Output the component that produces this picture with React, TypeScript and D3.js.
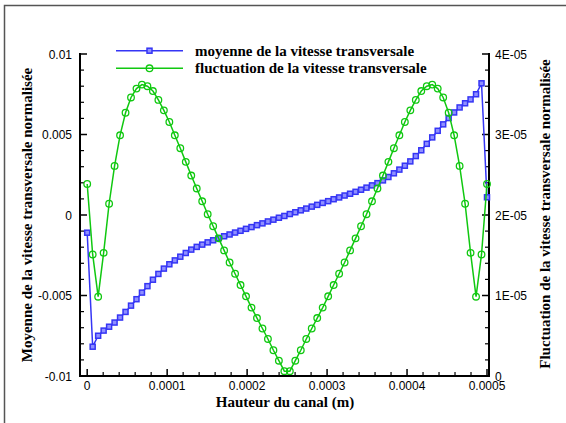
import React from 'react';
import * as d3 from 'd3';

// Hauteur du canal in micrometres (x 1e-6 m)
const hauteurUm = [
  0, 6.85, 13.7, 20.55, 27.4, 34.25, 41.1, 47.95, 54.79, 61.64,
  68.49, 75.34, 82.19, 89.04, 95.89, 102.74, 109.59, 116.44, 123.29, 130.14,
  136.99, 143.84, 150.68, 157.53, 164.38, 171.23, 178.08, 184.93, 191.78, 198.63,
  205.48, 212.33, 219.18, 226.03, 232.88, 239.73, 246.58, 253.42, 260.27, 267.12,
  273.97, 280.82, 287.67, 294.52, 301.37, 308.22, 315.07, 321.92, 328.77, 335.62,
  342.47, 349.32, 356.16, 363.01, 369.86, 376.71, 383.56, 390.41, 397.26, 404.11,
  410.96, 417.81, 424.66, 431.51, 438.36, 445.21, 452.05, 458.9, 465.75, 472.6,
  479.45, 486.3, 493.15, 500,
];

const moyenne = [
  -0.0011, -0.00818, -0.0075, -0.00718, -0.00694, -0.00668, -0.00637, -0.00602, -0.00563, -0.00523,
  -0.00482, -0.00442, -0.00402, -0.00366, -0.00333, -0.00306, -0.00282, -0.00259, -0.00236, -0.00215,
  -0.00198, -0.00184, -0.0017, -0.00157, -0.00144, -0.00132, -0.00121, -0.00109, -0.00098, -0.00086,
  -0.00075, -0.00063, -0.00052, -0.0004, -0.00029, -0.00017, -0.00006, 0.00006, 0.00017, 0.00029,
  0.0004, 0.00052, 0.00063, 0.00075, 0.00086, 0.00098, 0.00109, 0.00121, 0.00132, 0.00144,
  0.00157, 0.0017, 0.00184, 0.00198, 0.00215, 0.00236, 0.00259, 0.00282, 0.00306, 0.00333,
  0.00366, 0.00402, 0.00442, 0.00482, 0.00523, 0.00563, 0.00602, 0.00637, 0.00668, 0.00694,
  0.00718, 0.0075, 0.00818, 0.0011,
];

const fluctuation = [
  2.385e-5, 1.51e-5, 0.985e-5, 1.53e-5, 2.14e-5, 2.61e-5, 2.99e-5, 3.27e-5, 3.46e-5, 3.57e-5,
  3.62e-5, 3.6e-5, 3.54e-5, 3.43e-5, 3.3e-5, 3.155e-5, 2.99e-5, 2.83e-5, 2.66e-5, 2.49e-5,
  2.33e-5, 2.17e-5, 2.01e-5, 1.86e-5, 1.71e-5, 1.56e-5, 1.41e-5, 1.27e-5, 1.13e-5, 0.99e-5,
  0.85e-5, 0.72e-5, 0.59e-5, 0.46e-5, 0.32e-5, 0.19e-5, 0.06e-5, 0.06e-5, 0.19e-5, 0.32e-5,
  0.46e-5, 0.59e-5, 0.72e-5, 0.85e-5, 0.99e-5, 1.13e-5, 1.27e-5, 1.41e-5, 1.56e-5, 1.71e-5,
  1.86e-5, 2.01e-5, 2.17e-5, 2.33e-5, 2.49e-5, 2.66e-5, 2.83e-5, 2.99e-5, 3.155e-5, 3.3e-5,
  3.43e-5, 3.54e-5, 3.6e-5, 3.62e-5, 3.57e-5, 3.46e-5, 3.27e-5, 2.99e-5, 2.61e-5, 2.14e-5,
  1.53e-5, 0.985e-5, 1.51e-5, 2.385e-5,
];

const xTicks = [0, 100, 200, 300, 400, 500];
const xTickLabels = ['0', '0.0001', '0.0002', '0.0003', '0.0004', '0.0005'];
const yLeftTicks = [-0.01, -0.005, 0, 0.005, 0.01];
const yLeftLabels = ['-0.01', '-0.005', '0', '0.005', '0.01'];
const yRightTicks = [0, 1e-5, 2e-5, 3e-5, 4e-5];
const yRightLabels = ['0', '1E-05', '2E-05', '3E-05', '4E-05'];
const legendLabels = ['moyenne de la vitesse transversale', 'fluctuation de la vitesse transversale'];

const BLUE = '#3535f5';
const GREEN = '#10c810';
const SERIF = '"Liberation Serif", "Times New Roman", serif';
const SANS = '"Liberation Sans", Arial, sans-serif';

export default function App() {
  const L = 80, R = 489, T = 54, B = 376;
  const x = d3.scaleLinear().domain([-9, 502.5]).range([L, R]);
  const yL = d3.scaleLinear().domain([-0.01, 0.01]).range([B, T]);
  const yR = d3.scaleLinear().domain([0, 4e-5]).range([B, T]);

  const idx = d3.range(hauteurUm.length);
  const blueLine = d3.line<number>().x(i => x(hauteurUm[i])).y(i => yL(moyenne[i]))(idx) || '';
  const greenLine = d3.line<number>().x(i => x(hauteurUm[i])).y(i => yR(fluctuation[i]))(idx) || '';

  const xMinor = d3.range(0, 501, 20).filter(v => !xTicks.includes(v));
  const yMinor = d3.range(-10, 11, 1).filter(v => v % 5 !== 0).map(v => v / 1000);

  const sq = 5;
  const legX1 = 116, legX2 = 183, legY = [50.7, 68.3];

  return (
    <svg width={566} height={423} style={{ position: 'absolute', left: 0, top: 0, background: '#fff' }}>
      <rect x={0} y={0} width={566} height={423} fill="#fff" />
      <rect x={4.5} y={5.5} width={700} height={600} fill="none" stroke="#555" strokeWidth={1.5} />

      {/* axes */}
      <g stroke="#000" fill="none">
        <line x1={L} y1={T - 1} x2={L} y2={B + 1} strokeWidth={2} />
        <line x1={R} y1={T - 1} x2={R} y2={B + 1} strokeWidth={2} />
        <line x1={L - 1} y1={B} x2={R + 1} y2={B} strokeWidth={2} />
        {xTicks.map(v => <line key={'xt' + v} x1={x(v)} x2={x(v)} y1={B} y2={B - 7} strokeWidth={1.5} />)}
        {xMinor.map(v => <line key={'xm' + v} x1={x(v)} x2={x(v)} y1={B} y2={B - 4} strokeWidth={1.2} />)}
        {yLeftTicks.map(v => <line key={'yl' + v} x1={L} x2={L + 7} y1={yL(v)} y2={yL(v)} strokeWidth={1.5} />)}
        {yMinor.map(v => <line key={'ylm' + v} x1={L} x2={L + 4} y1={yL(v)} y2={yL(v)} strokeWidth={1.2} />)}
        {yRightTicks.map(v => <line key={'yr' + v} x1={R} x2={R - 7} y1={yR(v)} y2={yR(v)} strokeWidth={1.5} />)}
        {yMinor.map(v => <line key={'yrm' + v} x1={R} x2={R - 4} y1={yL(v)} y2={yL(v)} strokeWidth={1.2} />)}
      </g>

      {/* tick labels */}
      <g fontFamily={SANS} fontSize={12} fill="#000">
        {xTicks.map((v, i) => (
          <text key={'xl' + v} x={x(v)} y={390} textAnchor="middle">{xTickLabels[i]}</text>
        ))}
        {yLeftTicks.map((v, i) => (
          <text key={'yll' + v} x={72} y={yL(v) + 4.5} textAnchor="end">{yLeftLabels[i]}</text>
        ))}
        {yRightTicks.map((v, i) => (
          <text key={'yrl' + v} x={495} y={yR(v) + 4.5} textAnchor="start">{yRightLabels[i]}</text>
        ))}
      </g>

      {/* titles */}
      <g fontFamily={SERIF} fontSize={15} fontWeight="bold" fill="#000">
        <text x={285} y={407} textAnchor="middle">Hauteur du canal (m)</text>
        <text transform="translate(32,215) rotate(-90)" textAnchor="middle">Moyenne de la vitesse transversale normalisée</text>
        <text transform="translate(550,214) rotate(-90)" textAnchor="middle">Fluctuation de la vitesse transversale normalisée</text>
      </g>

      {/* series */}
      <path d={blueLine} fill="none" stroke={BLUE} strokeWidth={1.5} />
      {idx.map(i => (
        <rect key={'b' + i} x={x(hauteurUm[i]) - sq / 2} y={yL(moyenne[i]) - sq / 2} width={sq} height={sq}
          fill="#8f8fff" stroke={BLUE} strokeWidth={1.5} />
      ))}
      <path d={greenLine} fill="none" stroke={GREEN} strokeWidth={1.5} />
      {idx.map(i => (
        <circle key={'g' + i} cx={x(hauteurUm[i])} cy={yR(fluctuation[i])} r={3.3}
          fill="none" stroke={GREEN} strokeWidth={1.3} />
      ))}

      {/* legend */}
      <line x1={legX1} x2={legX2} y1={legY[0]} y2={legY[0]} stroke={BLUE} strokeWidth={1.5} />
      <rect x={(legX1 + legX2) / 2 - sq / 2} y={legY[0] - sq / 2} width={sq} height={sq} fill="#8f8fff" stroke={BLUE} strokeWidth={1.5} />
      <line x1={legX1} x2={legX2} y1={legY[1]} y2={legY[1]} stroke={GREEN} strokeWidth={1.5} />
      <circle cx={(legX1 + legX2) / 2} cy={legY[1]} r={3.3} fill="none" stroke={GREEN} strokeWidth={1.3} />
      <g fontFamily={SERIF} fontSize={15} fontWeight="bold" fill="#000">
        <text x={195} y={legY[0] + 5}>{legendLabels[0]}</text>
        <text x={195} y={legY[1] + 5}>{legendLabels[1]}</text>
      </g>
    </svg>
  );
}
